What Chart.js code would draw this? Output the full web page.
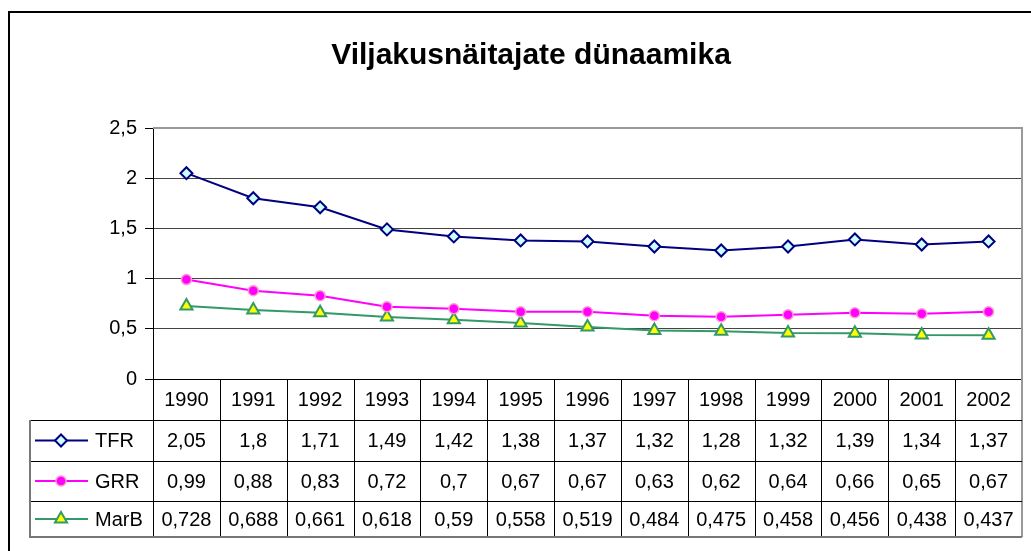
<!DOCTYPE html>
<html>
<head>
<meta charset="utf-8">
<script src="https://cdn.jsdelivr.net/npm/chart.js@4.4.0/dist/chart.umd.min.js"></script>
<style>
  html, body { margin: 0; padding: 0; background: #fff; }
  #wrap { position: relative; width: 1031px; height: 551px; }
</style>
</head>
<body>
<div id="wrap"><canvas id="chart"></canvas></div>
<script>
const years = ["1990", "1991", "1992", "1993", "1994", "1995", "1996", "1997", "1998", "1999", "2000", "2001", "2002"];
const tfrValues = [2.05, 1.8, 1.71, 1.49, 1.42, 1.38, 1.37, 1.32, 1.28, 1.32, 1.39, 1.34, 1.37];
const grrValues = [0.99, 0.88, 0.83, 0.72, 0.7, 0.67, 0.67, 0.63, 0.62, 0.64, 0.66, 0.65, 0.67];
const marbValues = [0.728, 0.688, 0.661, 0.618, 0.59, 0.558, 0.519, 0.484, 0.475, 0.458, 0.456, 0.438, 0.437];
const yMin = 0;
const yMax = 2.5;
const yStep = 0.5;

const titleText = "Viljakusnäitajate dünaamika";
const FONT = '"Liberation Sans", Arial, sans-serif';

const series = [
    { name: "TFR", values: tfrValues, line: "#000080", fill: "#CCFFFF", border: "#000080", style: "rectRot", radius: 6, bw: 2 },
    { name: "GRR", values: grrValues, line: "#FF00FF", fill: "#FF00FF", border: "#FF99CC", style: "circle", radius: 5, bw: 1.5 },
    { name: "MarB", values: marbValues, line: "#339966", fill: "#FFFF00", border: "#339966", style: "triangle", radius: 7, bw: 2 }
];

const fmt = (v) => String(v).replace(".", ",");

const drawMarker = (ctx, s, x, y) => {
    ctx.beginPath();
    if (s.style === "rectRot") {
        ctx.moveTo(x - s.radius, y);
        ctx.lineTo(x, y - s.radius);
        ctx.lineTo(x + s.radius, y);
        ctx.lineTo(x, y + s.radius);
        ctx.closePath();
    } else if (s.style === "circle") {
        ctx.arc(x, y, s.radius, 0, Math.PI * 2);
    } else {
        const h = s.radius * 1.5;
        const half = s.radius * Math.sqrt(3) / 2;
        ctx.moveTo(x, y - s.radius);
        ctx.lineTo(x + half, y + h - s.radius);
        ctx.lineTo(x - half, y + h - s.radius);
        ctx.closePath();
    }
    ctx.fillStyle = s.fill;
    ctx.fill();
    ctx.lineWidth = s.bw;
    ctx.strokeStyle = s.border;
    ctx.stroke();
};

// outer frame (only left and top edges show in the picture) + title
const framePlugin = {
    id: "frame",
    beforeDraw(chart) {
        const ctx = chart.ctx;
        ctx.save();
        ctx.fillStyle = "#fff";
        ctx.fillRect(0, 0, chart.width, chart.height);
        ctx.strokeStyle = "#000";
        ctx.lineWidth = 2;
        ctx.beginPath();
        ctx.moveTo(9, chart.height);
        ctx.lineTo(9, 12);
        ctx.lineTo(chart.width, 12);
        ctx.stroke();

        ctx.font = "bold 30px " + FONT;
        ctx.fillStyle = "#000";
        ctx.textAlign = "center";
        ctx.textBaseline = "middle";
        ctx.fillText(titleText, 531, 56);
        ctx.restore();
    }
};

const tablePlugin = {
    id: "dataTable",
    afterDraw(chart) {
        const ctx = chart.ctx;
        const area = chart.chartArea;
        const xScale = chart.scales.x;
        const colW = (area.right - area.left) / years.length;
        const top = area.bottom;
        const rows = [top, top + 41, top + 82, top + 122, top + 158];
        const legendLeft = 30;
        const px = (v) => Math.round(v) + 0.5;

        ctx.save();

        // plot border, top and right
        ctx.strokeStyle = "#999";
        ctx.lineWidth = 2;
        ctx.beginPath();
        ctx.moveTo(area.left, area.top);
        ctx.lineTo(area.right, area.top);
        ctx.lineTo(area.right, rows[4]);
        ctx.stroke();

        // inner lines
        ctx.strokeStyle = "#000";
        ctx.lineWidth = 1;
        ctx.beginPath();
        for (let r = 1; r <= 3; r++) {
            ctx.moveTo(legendLeft, px(rows[r]));
            ctx.lineTo(area.right, px(rows[r]));
        }
        for (let i = 0; i < years.length; i++) {
            const lx = px(area.left + i * colW);
            ctx.moveTo(lx, top);
            ctx.lineTo(lx, rows[4]);
        }
        ctx.stroke();

        // outer lines
        ctx.strokeStyle = "#777";
        ctx.lineWidth = 2;
        ctx.beginPath();
        ctx.moveTo(legendLeft, rows[1]);
        ctx.lineTo(legendLeft, rows[4]);
        ctx.lineTo(area.right, rows[4]);
        ctx.stroke();

        // cell texts
        ctx.font = "20px " + FONT;
        ctx.fillStyle = "#000";
        ctx.textAlign = "center";
        ctx.textBaseline = "middle";
        years.forEach((yr, i) => {
            const cx = xScale.getPixelForValue(i);
            ctx.fillText(yr, cx, (rows[0] + rows[1]) / 2 + 1);
            series.forEach((s, r) => {
                ctx.fillText(fmt(s.values[i]), cx, (rows[r + 1] + rows[r + 2]) / 2 + 1);
            });
        });

        // legend keys
        series.forEach((s, r) => {
            const cy = (rows[r + 1] + rows[r + 2]) / 2;
            ctx.strokeStyle = s.line;
            ctx.lineWidth = 2;
            ctx.beginPath();
            ctx.moveTo(35, cy);
            ctx.lineTo(88, cy);
            ctx.stroke();
            drawMarker(ctx, s, 61, cy);
            ctx.fillStyle = "#000";
            ctx.textAlign = "left";
            ctx.fillText(s.name, 95, cy + 1);
        });

        ctx.restore();
    }
};

const chartData = {
    labels: years,
    datasets: series.map((s) => ({
        label: s.name,
        data: s.values,
        borderColor: s.line,
        borderWidth: 2,
        pointStyle: s.style,
        pointRadius: s.radius,
        pointBackgroundColor: s.fill,
        pointBorderColor: s.border,
        pointBorderWidth: s.bw,
        tension: 0,
        fill: false
    }))
};

const chart = new Chart(document.getElementById("chart"), {
    type: "line",
    data: chartData,
    options: {
        responsive: true,
        maintainAspectRatio: false,
        animation: false,
        layout: { padding: { left: 0, right: 3, top: 128, bottom: 172 } },
        plugins: {
            legend: { display: false },
            title: { display: false },
            tooltip: { enabled: false }
        },
        scales: {
            x: {
                type: "category",
                offset: true,
                display: false
            },
            y: {
                min: yMin,
                max: yMax,
                afterFit: (scale) => { scale.width = 153; },
                border: { display: true, color: "#000", width: 1 },
                grid: {
                    color: (c) => (c.tick && c.tick.value === yMax ? "#999" : (c.tick && c.tick.value === yMin ? "#000" : "#444")),
                    tickColor: "#000",
                    tickLength: 8,
                    lineWidth: 1
                },
                ticks: {
                    stepSize: yStep,
                    padding: 8,
                    color: "#000",
                    font: { family: FONT, size: 20 },
                    callback: (v) => fmt(v)
                }
            }
        }
    },
    plugins: [framePlugin, tablePlugin]
});
</script>
</body>
</html>
